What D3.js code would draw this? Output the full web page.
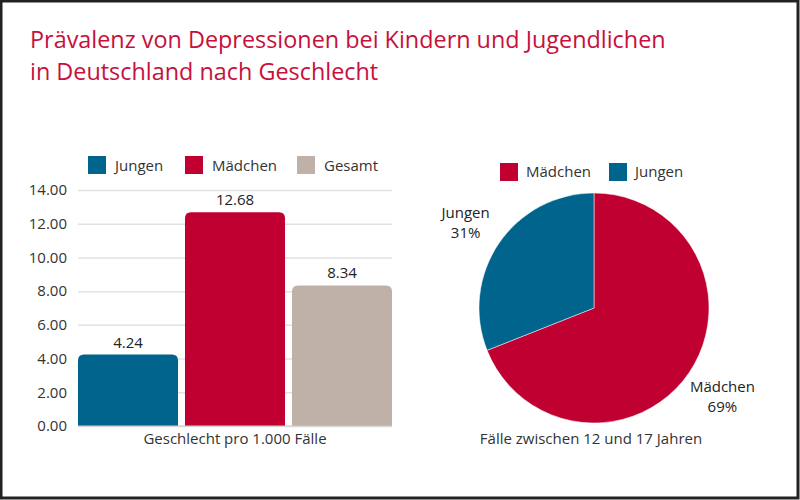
<!DOCTYPE html>
<html>
<head>
<meta charset="utf-8">
<script src="https://cdn.jsdelivr.net/npm/d3@7"></script>
<style>
  body { margin: 0; background: #fff; }
  svg { display: block; font-family: "Open Sans", "Noto Sans", sans-serif; }
</style>
</head>
<body>
<script>
// data
var barCategories = ["Jungen", "Mädchen", "Gesamt"];
var barValues = [4.24, 12.68, 8.34];
var barColors = ["#00648c", "#c00031", "#bfb1a8"];
var yTicks = [0, 2, 4, 6, 8, 10, 12, 14];

var pieCategories = ["Mädchen", "Jungen"];
var pieValues = [69, 31];
var pieColors = ["#c00031", "#00648c"];

var titleLines = ["Prävalenz von Depressionen bei Kindern und Jugendlichen", "in Deutschland nach Geschlecht"];

var width = 800, height = 500;
var fs = "15px";

var svg = d3.select("body").append("svg")
  .attr("width", width)
  .attr("height", height);

svg.append("rect")
  .attr("x", 1).attr("y", 1)
  .attr("width", width - 3).attr("height", height - 3)
  .attr("fill", "#fff")
  .attr("stroke", "#222")
  .attr("stroke-width", 3);

// title
svg.append("g").selectAll("text")
  .data(titleLines)
  .enter().append("text")
  .attr("x", 30)
  .attr("y", (d, i) => 48 + i * 32)
  .attr("fill", "#c8103c")
  .style("font-size", "23.4px")
  .text(d => d);

// ---- bar chart ----
var y = d3.scaleLinear().domain([0, 14]).range([426, 190]);
var x = d3.scaleBand().domain(barCategories).range([78, 392]).paddingInner(0.065).paddingOuter(0);

var yAxis = svg.append("g")
  .attr("transform", "translate(78,0)")
  .call(d3.axisLeft(y).tickValues(yTicks).tickFormat(d3.format(".2f")).tickSize(-314).tickPadding(11));
yAxis.select(".domain").remove();
yAxis.selectAll(".tick line").attr("stroke", "#e2e2e2").attr("stroke-width", 1.5);
yAxis.selectAll(".tick text").attr("fill", "#333").style("font-size", fs).attr("font-family", "Open Sans");

function topRounded(x0, y0, w, h, r) {
  return "M" + x0 + "," + (y0 + h) +
    "V" + (y0 + r) +
    "Q" + x0 + "," + y0 + " " + (x0 + r) + "," + y0 +
    "H" + (x0 + w - r) +
    "Q" + (x0 + w) + "," + y0 + " " + (x0 + w) + "," + (y0 + r) +
    "V" + (y0 + h) + "Z";
}

svg.append("g").selectAll("path")
  .data(barValues)
  .enter().append("path")
  .attr("d", (d, i) => topRounded(x(barCategories[i]), y(d), x.bandwidth(), y(0) - y(d), 6))
  .attr("fill", (d, i) => barColors[i]);

svg.append("g").selectAll("text")
  .data(barValues)
  .enter().append("text")
  .attr("x", (d, i) => x(barCategories[i]) + x.bandwidth() / 2)
  .attr("y", d => y(d) - 7)
  .attr("text-anchor", "middle")
  .attr("fill", "#222")
  .style("font-size", fs)
  .text(d => d3.format(".2f")(d));

svg.append("line")
  .attr("x1", 78).attr("x2", 392)
  .attr("y1", y(0)).attr("y2", y(0))
  .attr("stroke", "#ccc");

svg.append("text")
  .attr("x", 235).attr("y", 444)
  .attr("text-anchor", "middle")
  .attr("fill", "#333")
  .style("font-size", fs)
  .text("Geschlecht pro 1.000 Fälle");

// bar legend
var barLegX = [88, 185, 297];
var barLeg = svg.append("g").selectAll("g")
  .data(barCategories)
  .enter().append("g")
  .attr("transform", (d, i) => "translate(" + barLegX[i] + ",156)");
barLeg.append("rect").attr("width", 18).attr("height", 18).attr("fill", (d, i) => barColors[i]);
barLeg.append("text").attr("x", 27).attr("y", 15)
  .attr("fill", "#333").style("font-size", fs).text(d => d);

// ---- pie chart ----
var cx = 594, cy = 308, r = 115;
var pie = d3.pie().sort(null)(pieValues);
var arc = d3.arc().innerRadius(0).outerRadius(r);

var pieG = svg.append("g").attr("transform", "translate(" + cx + "," + cy + ")");
pieG.selectAll("path")
  .data(pie)
  .enter().append("path")
  .attr("d", arc)
  .attr("fill", (d, i) => pieColors[i])
  .attr("stroke", "#fff")
  .attr("stroke-width", 0.5);

// outside labels
var labelArc = d3.arc().innerRadius(r * 1.35).outerRadius(r * 1.35);
var lbl = pieG.selectAll("g.lbl")
  .data(pie)
  .enter().append("g")
  .attr("class", "lbl")
  .attr("transform", d => "translate(" + labelArc.centroid(d) + ")");
lbl.append("text")
  .attr("text-anchor", "middle")
  .attr("fill", "#222")
  .style("font-size", fs)
  .attr("y", -3)
  .text((d, i) => pieCategories[i]);
lbl.append("text")
  .attr("text-anchor", "middle")
  .attr("fill", "#222")
  .style("font-size", fs)
  .attr("y", 17)
  .text((d, i) => pieValues[i] + "%");

svg.append("text")
  .attr("x", 591).attr("y", 444)
  .attr("text-anchor", "middle")
  .attr("fill", "#333")
  .style("font-size", fs)
  .text("Fälle zwischen 12 und 17 Jahren");

// pie legend
var pieLegX = [500, 609];
var pieLeg = svg.append("g").selectAll("g")
  .data(pieCategories)
  .enter().append("g")
  .attr("transform", (d, i) => "translate(" + pieLegX[i] + ",163)");
pieLeg.append("rect").attr("width", 18).attr("height", 18).attr("fill", (d, i) => pieColors[i]);
pieLeg.append("text").attr("x", 26).attr("y", 14)
  .attr("fill", "#333").style("font-size", fs).text(d => d);
</script>
</body>
</html>
